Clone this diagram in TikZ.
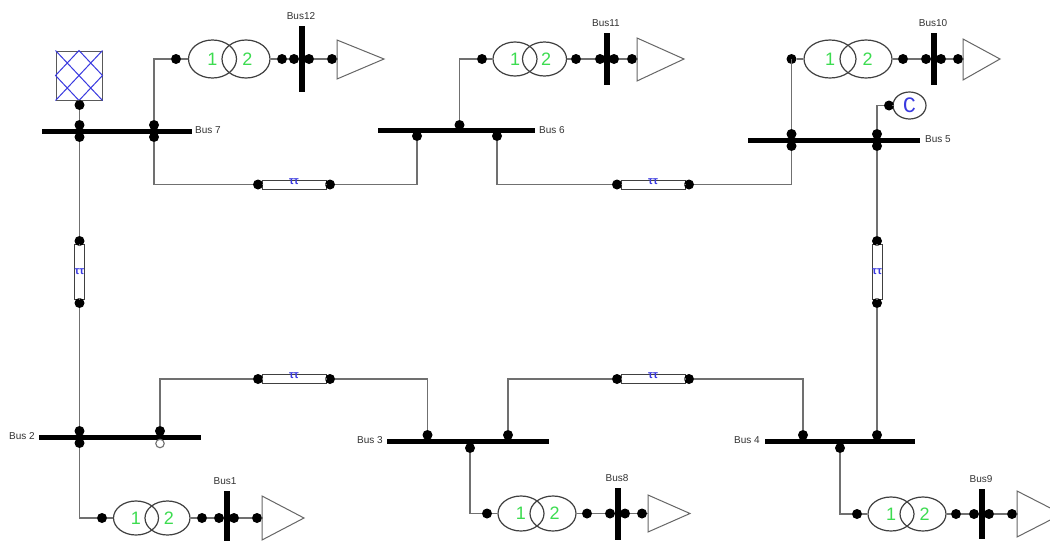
\documentclass[tikz,border=0pt]{standalone}
\usepackage{fontspec}
\setmainfont{Liberation Sans}
\newfontfamily\monofam{Liberation Mono}
\usetikzlibrary{shapes.geometric}
\definecolor{wire}{HTML}{707070}
\definecolor{wind}{HTML}{3CDC50}
\definecolor{pib}{HTML}{3A3AE0}
\tikzset{
  conn/.style={draw=wire,line width=1.4pt},
  bdot/.style={circle,fill=black,draw=none,minimum size=10pt,inner sep=0pt},
  opendot/.style={circle,fill=white,draw=wire,line width=1.1pt,minimum size=8.5pt,inner sep=0pt},
  barbox/.style={rectangle,fill=black,draw=none,inner sep=0pt},
  winding/.style={ellipse,draw=black!75,line width=1.2pt,inner sep=0pt,text=wind,font=\fontsize{18}{18}\selectfont},
  pibox/.style={rectangle,draw=black!75,fill=white,line width=1pt,inner sep=0pt,text=pib,font=\bfseries\fontsize{11}{11}\selectfont},
  load/.style={draw=black!60,line width=1pt,fill=white},
  buslabel/.style={inner sep=0pt,text=black!80,font=\fontsize{10}{11}\selectfont},
}
% dot
\newcommand{\bd}[3]{\node[bdot] (#1) at (#2,#3) {};}
% horizontal bus: name, x1, x2, y
\newcommand{\hb}[4]{\node[barbox,minimum width={(#3-#2)*1pt},minimum height=5pt] (#1) at ({(#2+#3)/2},#4) {};}
% vertical bus: name, x, y1, y2
\newcommand{\vb}[4]{\node[barbox,minimum width=5.5pt,minimum height={(#4-#3)*1pt}] (#1) at (#2,{(#3+#4)/2}) {};}
% horizontal line section: name, cx, y
\newcommand{\pih}[3]{%
  \node[pibox,minimum width=64pt,minimum height=9pt] (#1) at (#2,#3) {\raisebox{0.5pt}[0pt][0pt]{ττ}};
  \bd{#1a}{#2-36}{#3}\bd{#1b}{#2+36}{#3}
  \draw[conn] (#1a)--(#1) (#1)--(#1b);}
% vertical line section: name, x, cy
\newcommand{\piv}[3]{%
  \node[pibox,minimum width=10pt,minimum height=55pt] (#1) at (#2,#3) {\makebox[0pt]{ττ}};
  \bd{#1a}{#2}{#3-31}\bd{#1b}{#2}{#3+31}
  \draw[conn] (#1a)--(#1) (#1)--(#1b);}
% transformer: id, y, dot1, e1, e2, rx, ry, dot2
\newcommand{\xf}[8]{%
  \bd{#1p}{#3}{#2}
  \node[winding,minimum width={2*#6*1pt},minimum height={2*#7*1pt}] (#1e) at (#4,#2) {1};
  \node[winding,minimum width={2*#6*1pt},minimum height={2*#7*1pt}] (#1f) at (#5,#2) {\hspace{3pt}2};
  \bd{#1q}{#8}{#2}
  \draw[conn] (#1p)--(#1e) (#1f)--(#1q);}
% low-voltage side: id, y, dot3, dot4, dot5, tri left, tri tip, tri top, tri bottom
\newcommand{\lv}[9]{%
  \bd{#1r}{#3}{#2}\bd{#1s}{#4}{#2}\bd{#1t}{#5}{#2}
  \coordinate (#1l) at (#6,#2);
  \draw[load] (#6,#8) -- (#7,#2) -- (#6,#9) -- cycle;
  \draw[conn] (#1q)--(#1r) (#1s)--(#1t) (#1t)--(#1l);}
\begin{document}
\begin{tikzpicture}[x=1pt,y=-1pt]
\clip (0,0) rectangle (1050,541);
\fill[white] (0,0) rectangle (1050,541);

% ---- buses
\hb{bus7}{42}{192}{131}
\hb{bus6}{378}{535}{130}
\hb{bus5}{748}{920}{140}
\hb{bus2}{39}{201}{437}
\hb{bus3}{387}{549}{441.5}
\hb{bus4}{765}{915}{441.5}
\node[buslabel,anchor=west] (l7) at (195,130) {Bus 7};
\node[buslabel,anchor=west] (l6) at (539,130) {Bus 6};
\node[buslabel,anchor=west] (l5) at (925,139) {Bus 5};
\node[buslabel,anchor=east] (l2) at (35,436) {Bus 2};
\node[buslabel,anchor=east] (l3) at (383,440) {Bus 3};
\node[buslabel,anchor=east] (l4) at (760,440) {Bus 4};

% ---- generator
\node[rectangle,draw=black!65,line width=1pt,minimum width=46pt,minimum height=49pt,inner sep=0pt] (gen) at (79,75.5) {};
\draw[pib,line width=1pt] (gen.north west)--(gen.south east) (gen.north east)--(gen.south west)
  (gen.north)--(gen.east)--(gen.south)--(gen.west)--cycle;
\bd{gd}{79.5}{105}

% ---- bus dots
\bd{b7a}{79.5}{125}\bd{b7b}{79.5}{137}\bd{b7c}{154}{125}\bd{b7d}{154}{137}
\bd{b6a}{417}{136}\bd{b6b}{497}{136}\bd{b6c}{459.5}{125}
\bd{b5a}{791.5}{134}\bd{b5b}{791.5}{146}\bd{b5c}{877}{134}\bd{b5d}{877}{146}
\bd{b2a}{79.5}{431}\bd{b2b}{79.5}{443}\bd{b2c}{160}{431}
\node[opendot] (b2o) at (160,443.5) {};
\bd{b3a}{427.5}{435}\bd{b3b}{508}{435}\bd{b3c}{470}{448}
\bd{b4a}{803}{435}\bd{b4b}{877}{435}\bd{b4c}{840}{448}

% ---- line sections
\pih{la}{294}{184.5}
\pih{lb}{653}{184.5}
\pih{lc}{294}{379}
\pih{ld}{653}{379}
\piv{le}{79.5}{272}
\piv{lf}{877}{272}

% ---- capacitor
\node[ellipse,draw=black!75,line width=1.2pt,minimum width=33pt,minimum height=27pt,inner sep=0pt,text=pib,font=\monofam\fontsize{22}{22}\selectfont] (cap) at (909.5,105.5) {C};
\bd{capd}{889}{105.5}

% ---- transformers and loads
\xf{t12}{59}{176}{212.5}{246}{24}{19}{282}
\vb{bus12}{302}{26}{92}
\lv{t12}{59}{294}{309}{332}{337}{384}{40}{79}
\node[buslabel] (l12) at (301,16) {Bus12};

\xf{t11}{59}{482}{515}{544.5}{22}{17}{576}
\vb{bus11}{607}{33}{85}
\lv{t11}{59}{600}{614}{632}{637}{684}{38}{81}
\node[buslabel] (l11) at (606,23) {Bus11};

\xf{t10}{59}{791.5}{830}{866}{26}{19}{903}
\vb{bus10}{934}{33}{85}
\lv{t10}{59}{926}{941}{958}{963}{1000}{39}{80}
\node[buslabel] (l10) at (933,23) {Bus10};

\xf{t1}{518}{102}{136}{167.5}{22.5}{17}{202}
\vb{bus1}{227}{491}{541}
\lv{t1}{518}{219}{234}{257}{262}{304}{496}{540}
\node[buslabel] (l1) at (225,481) {Bus1};

\xf{t8}{513.5}{487}{521}{553}{23}{17.5}{587}
\vb{bus8}{618}{488}{540}
\lv{t8}{513.5}{610}{625}{642}{648}{690}{495}{532}
\node[buslabel] (l8) at (617,478) {Bus8};

\xf{t9}{514}{857}{891}{923}{23}{17}{956}
\vb{bus9}{982}{489}{539}
\lv{t9}{514}{974}{989}{1012}{1017}{1062}{491}{537}
\node[buslabel] (l9) at (981,479) {Bus9};

% ---- connectors
\draw[conn] (gd)--(gen.south);
\draw[conn] (gd)--(b7a);
\draw[conn] (b7b)--(lea);
\draw[conn] (leb)--(b2a);
\draw[conn] (b2b)|-(t1p);
\draw[conn] (b7c)|-(t12p);
\draw[conn] (b7d)|-(laa);
\draw[conn] (lab)-|(b6a);
\draw[conn] (b6c)|-(t11p);
\draw[conn] (b6b)|-(lba);
\draw[conn] (lbb)-|(b5b);
\draw[conn] (b5a)|-(t10p);
\draw[conn] (b5c)|-(capd);
\draw[conn] (capd)--(cap);
\draw[conn] (b5d)--(lfa);
\draw[conn] (lfb)--(b4b);
\draw[conn] (b4a)|-(ldb);
\draw[conn] (lda)-|(b3b);
\draw[conn] (b3a)|-(lcb);
\draw[conn] (lca)-|(b2c);
\draw[conn] (b3c)|-(t8p);
\draw[conn] (b4c)|-(t9p);
\end{tikzpicture}
\end{document}
